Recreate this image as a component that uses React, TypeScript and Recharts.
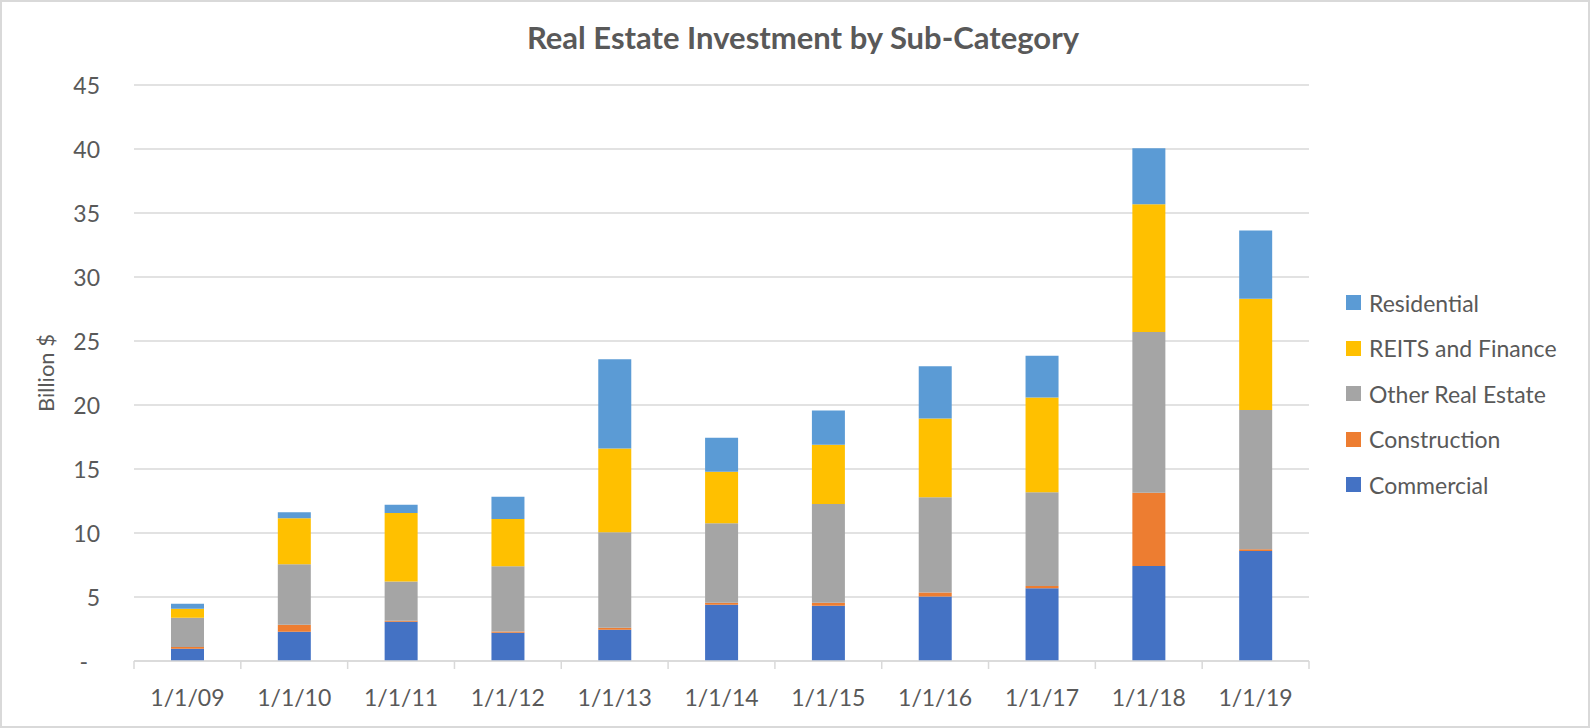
import { BarChart, Bar, XAxis, YAxis, CartesianGrid, Legend } from "recharts";

const categories = ["1/1/09", "1/1/10", "1/1/11", "1/1/12", "1/1/13", "1/1/14", "1/1/15", "1/1/16", "1/1/17", "1/1/18", "1/1/19"];
const commercial = [0.95, 2.28, 3.07, 2.2, 2.44, 4.4, 4.32, 5.03, 5.69, 7.42, 8.6];
const construction = [0.15, 0.55, 0.08, 0.1, 0.15, 0.16, 0.24, 0.32, 0.16, 5.72, 0.14];
const otherRealEstate = [2.28, 4.72, 3.07, 5.1, 7.47, 6.21, 7.7, 7.45, 7.34, 12.57, 10.87];
const reitsFinance = [0.71, 3.61, 5.35, 3.7, 6.54, 4.01, 4.64, 6.15, 7.39, 9.98, 8.69];
const residential = [0.39, 0.47, 0.63, 1.73, 6.98, 2.67, 2.67, 4.08, 3.27, 4.37, 5.34];
const yTicks = [0, 5, 10, 15, 20, 25, 30, 35, 40, 45];

const series = [
  { key: "commercial", name: "Commercial", color: "#4472C4" },
  { key: "construction", name: "Construction", color: "#ED7D31" },
  { key: "other", name: "Other Real Estate", color: "#A5A5A5" },
  { key: "reits", name: "REITS and Finance", color: "#FFC000" },
  { key: "residential", name: "Residential", color: "#5B9BD5" },
];

const data = categories.map((date, i) => ({
  date,
  commercial: commercial[i],
  construction: construction[i],
  other: otherRealEstate[i],
  reits: reitsFinance[i],
  residential: residential[i],
}));

const FONT = "Lato, 'Open Sans', sans-serif";
const TEXT = "#595959";
const GRID = "#d9d9d9";

const W = 1590;
const H = 728;
const PLOT_LEFT = 134;
const PLOT_RIGHT = 1309;
const BAND = (PLOT_RIGHT - PLOT_LEFT) / categories.length;

function YTick({ x, y, payload }: any) {
  const zero = payload.value === 0;
  return (
    <text
      x={zero ? x - 12 : x}
      y={y}
      textAnchor="end"
      dominantBaseline="central"
      fill={TEXT}
      fontSize={23}
      fontFamily={FONT}
    >
      {zero ? "-" : payload.value}
    </text>
  );
}

function XTick({ x, y, payload, index }: any) {
  const top = y;
  const left = x - BAND / 2;
  const last = index === categories.length - 1;
  return (
    <g>
      <line x1={left} x2={left} y1={top} y2={top + 8} stroke={GRID} strokeWidth={1.5} />
      {last && <line x1={x + BAND / 2} x2={x + BAND / 2} y1={top} y2={top + 8} stroke={GRID} strokeWidth={1.5} />}
      <text x={x} y={top + 36} textAnchor="middle" dominantBaseline="central" fill={TEXT} fontSize={23} fontFamily={FONT}>
        {payload.value}
      </text>
    </g>
  );
}

function YLabel({ viewBox }: any) {
  const cy = viewBox.y + viewBox.height / 2;
  return (
    <text
      x={45}
      y={cy}
      transform={`rotate(-90, 45, ${cy})`}
      textAnchor="middle"
      dominantBaseline="central"
      fill={TEXT}
      fontSize={22}
      fontFamily={FONT}
    >
      Billion $
    </text>
  );
}

function LegendList() {
  return (
    <div style={{ fontFamily: FONT, color: TEXT, fontSize: 23 }}>
      {[...series].reverse().map((s) => (
        <div key={s.key} style={{ display: "flex", alignItems: "center", height: 45.5 }}>
          <span style={{ width: 15, height: 15, background: s.color, marginRight: 8, display: "inline-block" }} />
          <span>{s.name}</span>
        </div>
      ))}
    </div>
  );
}

export default function App() {
  return (
    <div
      style={{
        position: "fixed",
        left: 0,
        top: 0,
        width: W,
        height: H,
        background: "#fff",
        boxSizing: "border-box",
        border: `2px solid ${GRID}`,
      }}
    >
      <div
        style={{
          position: "absolute",
          top: 16,
          left: 6,
          width: W,
          textAlign: "center",
          fontFamily: FONT,
          fontWeight: 700,
          fontSize: 31,
          color: TEXT,
        }}
      >
        Real Estate Investment by Sub-Category
      </div>
      <div style={{ position: "absolute", left: -2, top: -2 }}>
        <BarChart
          width={W}
          height={H}
          data={data}
          margin={{ top: 85, right: W - PLOT_RIGHT, bottom: 0, left: 0 }}
        >
          <CartesianGrid vertical={false} stroke={GRID} strokeWidth={1.5} />
          <XAxis
            dataKey="date"
            height={67}
            axisLine={{ stroke: GRID, strokeWidth: 1.5 }}
            tickLine={false}
            tickSize={0}
            tickMargin={0}
            tick={<XTick />}
            interval={0}
          />
          <YAxis
            width={PLOT_LEFT}
            domain={[0, 45]}
            ticks={yTicks}
            axisLine={false}
            tickLine={false}
            tickSize={0}
            tickMargin={34}
            tick={<YTick />}
            label={<YLabel />}
          />
          <Legend
            layout="vertical"
            verticalAlign="middle"
            align="center"
            wrapperStyle={{ top: 280, left: 1346, width: 240, right: "auto", bottom: "auto" }}
            content={() => <LegendList />}
          />
          {series.map((s) => (
            <Bar
              key={s.key}
              dataKey={s.key}
              name={s.name}
              stackId="a"
              fill={s.color}
              barSize={33}
              isAnimationActive={false}
            />
          ))}
        </BarChart>
      </div>
    </div>
  );
}
